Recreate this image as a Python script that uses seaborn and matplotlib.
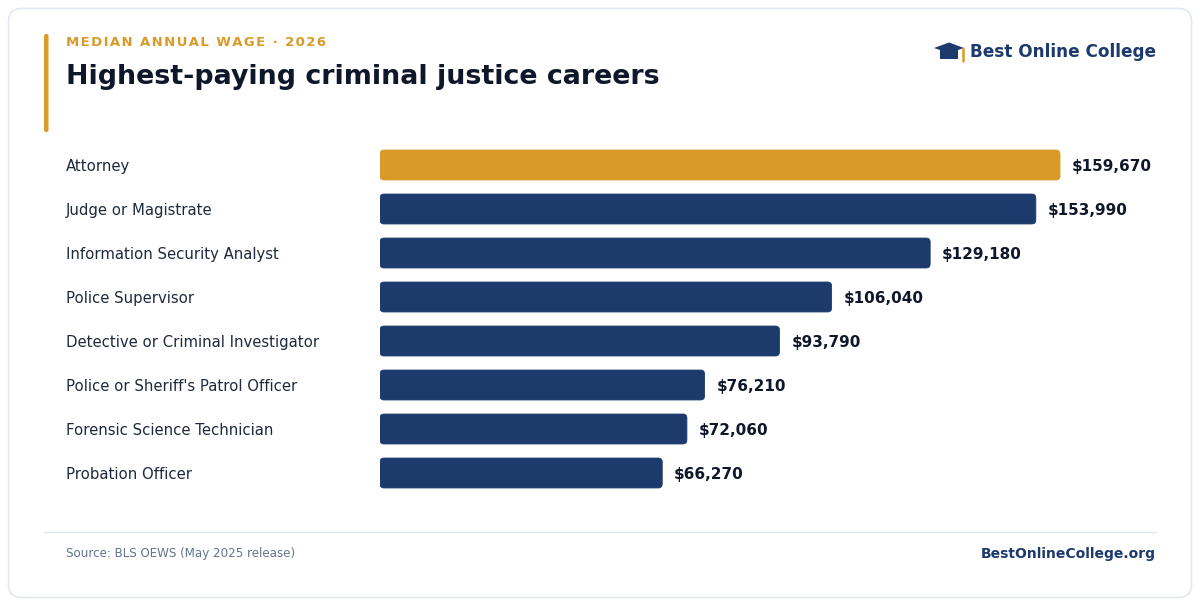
import matplotlib
matplotlib.use("Agg")
import matplotlib.pyplot as plt
import seaborn as sns
import pandas as pd
from matplotlib.patches import FancyBboxPatch, Polygon, Rectangle

# Data
careers = [
    "Attorney",
    "Judge or Magistrate",
    "Information Security Analyst",
    "Police Supervisor",
    "Detective or Criminal Investigator",
    "Police or Sheriff's Patrol Officer",
    "Forensic Science Technician",
    "Probation Officer",
]
wages = [159670, 153990, 129180, 106040, 93790, 76210, 72060, 66270]
highlight = ["top", "rest", "rest", "rest", "rest", "rest", "rest", "rest"]

df = pd.DataFrame({"career": careers, "wage": wages, "group": highlight})

GOLD = "#D99A28"
NAVY = "#1C3A6B"
INK = "#0F172A"
GRAY = "#64748B"
LINE = "#E2E8F0"

sns.set_theme(style="white")
plt.rcParams["font.family"] = ["DejaVu Sans"]

W, H = 1200, 606
fig = plt.figure(figsize=(12, 6.06), dpi=100)
fig.patch.set_facecolor("white")

# overlay in pixel coords for decorations
deco = fig.add_axes([0, 0, 1, 1])
deco.set_xlim(0, W)
deco.set_ylim(H, 0)
deco.axis("off")

card = FancyBboxPatch((8.5, 8.5), 1183, 589, boxstyle="round,pad=0,rounding_size=13",
                      facecolor="white", edgecolor=LINE, linewidth=1.2)
deco.add_patch(card)
deco.add_patch(FancyBboxPatch((44, 34), 4.5, 98, boxstyle="round,pad=0,rounding_size=2",
                              facecolor=GOLD, edgecolor="none"))

sub = "\u200a".join("MEDIAN ANNUAL WAGE · 2026")
deco.text(66, 42, sub, color=GOLD, fontsize=9.55, fontweight="bold", va="center", ha="left")
deco.text(66, 77, "Highest-paying criminal justice careers", color=INK, fontsize=19.4,
          fontweight="bold", va="center", ha="left")

# logo
deco.add_patch(Polygon([[934, 48], [949, 42.5], [964, 48], [949, 53]], closed=True,
                       facecolor=NAVY, edgecolor="none"))
deco.add_patch(Rectangle((940, 49), 18, 10, facecolor=NAVY, edgecolor="none"))
deco.plot([962.5, 962.5], [48, 61], color=GOLD, lw=1.8, solid_capstyle="round")
deco.text(1156, 52, "Best Online College", color=NAVY, fontsize=12.2, fontweight="bold",
          va="center", ha="right")

# footer
deco.plot([44, 1156], [532, 532], color=LINE, lw=1)
deco.text(66, 554, "Source: BLS OEWS (May 2025 release)", color=GRAY, fontsize=8.6,
          va="center", ha="left")
deco.text(1156, 554, "BestOnlineCollege.org", color=NAVY, fontsize=10, fontweight="bold",
          va="center", ha="right")

# bar chart axes: x=0 at px 380, px 1156 right; rows 143..495
ax = fig.add_axes([380 / W, 1 - 495 / H, (1156 - 380) / W, (495 - 143) / H])
ax.patch.set_alpha(0)
sns.barplot(data=df, y="career", x="wage", hue="group", palette={"top": GOLD, "rest": NAVY},
            order=careers, dodge=False, legend=False, width=0.68, saturation=1,
            ax=ax, orient="h")

xmax = 776 / (680 / 159670)
ax.set_xlim(0, xmax)
ax.set_ylim(len(careers) - 0.5, -0.5)

# round the bar corners
px_x = xmax / 776
px_y = len(careers) / 352
for p in list(ax.patches):
    x0, y0, w, h = p.get_x(), p.get_y(), p.get_width(), p.get_height()
    if w <= 0:
        continue
    fc = p.get_facecolor()
    p.remove()
    ax.add_patch(FancyBboxPatch((x0, y0), w, h,
                                boxstyle=f"round,pad=0,rounding_size={4 * px_x}",
                                mutation_aspect=px_y / px_x,
                                facecolor=fc, edgecolor=fc, linewidth=0.6))

for i, v in enumerate(wages):
    ax.text(v + 12 * px_x, i + 1 * px_y, f"${v:,}", va="center", ha="left", fontsize=11,
            fontweight="bold", color=INK)

ax.set_xlabel("")
ax.set_ylabel("")
ax.set_xticks([])
ax.tick_params(axis="y", length=0, pad=(380 - 66) * 0.72, labelsize=10.75, labelcolor="#1E293B")
for lab in ax.get_yticklabels():
    lab.set_ha("left")
    lab.set_va("center_baseline")
sns.despine(ax=ax, left=True, bottom=True)

fig.savefig("out.png", dpi=100, facecolor="white")
